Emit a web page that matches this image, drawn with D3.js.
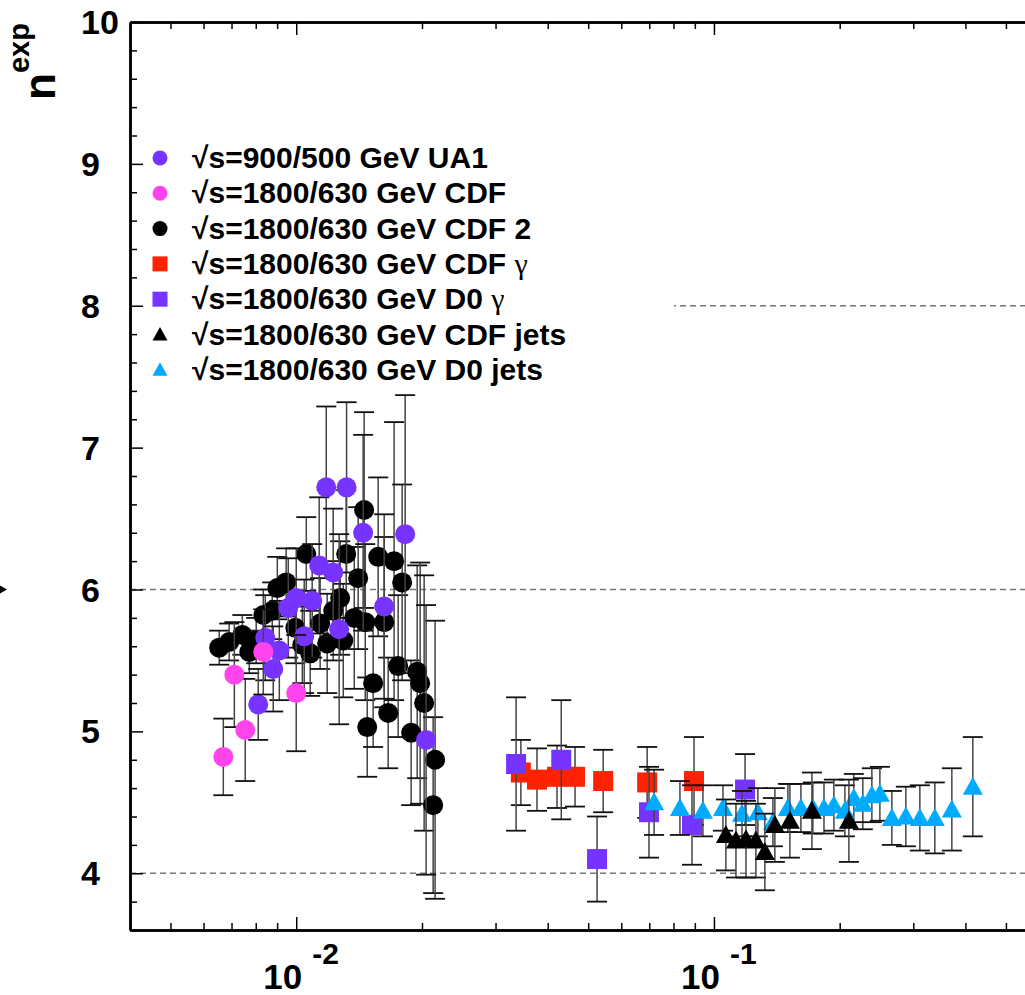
<!DOCTYPE html>
<html>
<head>
<meta charset="utf-8">
<script src="https://cdn.jsdelivr.net/npm/d3@7"></script>
<style>
body { margin: 0; background: #fff; }
text { font-family: "Liberation Sans", Arial, Helvetica, sans-serif; font-weight: bold; fill: #000; }
</style>
</head>
<body>
<svg id="chart" width="1025" height="995"></svg>
<script>
// [x, n_exp, error]
const ua1 = [
  [0.0118, 6.72, 0.57], [0.0132, 6.72, 0.60], [0.01446, 6.40, 0.69], [0.01823, 6.39, 0.98],
  [0.01135, 6.17, 0.48], [0.01226, 6.12, 0.45], [0.0100, 5.94, 0.35], [0.00957, 5.87, 0.35],
  [0.01092, 5.92, 0.40], [0.01267, 5.72, 0.67], [0.01624, 5.88, 0.65], [0.00843, 5.66, 0.30],
  [0.01045, 5.67, 0.40], [0.00911, 5.57, 0.35], [0.00881, 5.44, 0.30], [0.00811, 5.19, 0.25],
  [0.02046, 4.94, 0.95]
];
const cdf = [
  [0.00669, 4.82, 0.27], [0.00711, 5.40, 0.37], [0.00755, 5.01, 0.36],
  [0.00834, 5.56, 0.30], [0.0100, 5.27, 0.41]
];
const cdf2 = [
  [0.00654, 5.59, 0.12], [0.00691, 5.63, 0.13], [0.00743, 5.68, 0.14], [0.00772, 5.56, 0.15],
  [0.00802, 5.64, 0.16], [0.00834, 5.82, 0.18], [0.00876, 5.85, 0.20], [0.00901, 6.01, 0.22],
  [0.00946, 6.05, 0.24], [0.00995, 5.73, 0.25], [0.01034, 5.61, 0.27], [0.01057, 6.25, 0.26],
  [0.01080, 5.55, 0.30], [0.01141, 5.76, 0.32], [0.01186, 5.62, 0.35], [0.01226, 5.85, 0.35],
  [0.01274, 5.94, 0.40], [0.01296, 5.64, 0.40], [0.01317, 6.25, 0.45], [0.01377, 5.80, 0.50],
  [0.01407, 6.08, 0.50], [0.01454, 6.56, 0.69], [0.01463, 5.77, 0.55], [0.01479, 5.03, 0.35],
  [0.01528, 5.34, 0.45], [0.01571, 6.23, 0.56], [0.01624, 5.77, 0.60], [0.01660, 5.13, 0.39],
  [0.01715, 6.20, 0.98], [0.01754, 5.46, 0.50], [0.01793, 6.05, 0.69], [0.01884, 4.99, 0.51],
  [0.01948, 5.42, 0.75], [0.01980, 5.34, 0.85], [0.02024, 5.20, 0.90], [0.02127, 4.48, 0.62],
  [0.02150, 4.80, 0.98]
];
const cdfGamma = [
  [0.0345, 4.71, 0.23], [0.0377, 4.66, 0.22], [0.0421, 4.68, 0.22], [0.0465, 4.68, 0.21],
  [0.0543, 4.65, 0.22], [0.0692, 4.64, 0.25], [0.0896, 4.65, 0.31]
];
const d0Gamma = [
  [0.0336, 4.77, 0.47], [0.0431, 4.80, 0.42], [0.0525, 4.10, 0.30],
  [0.0699, 4.43, 0.32], [0.0886, 4.34, 0.28], [0.1187, 4.59, 0.25]
];
const cdfJets = [
  [0.1068, 4.27, 0.25], [0.1129, 4.23, 0.26], [0.1193, 4.24, 0.27], [0.1260, 4.23, 0.26],
  [0.1324, 4.15, 0.27], [0.1399, 4.34, 0.26], [0.1520, 4.37, 0.26], [0.1716, 4.44, 0.27],
  [0.2104, 4.37, 0.29]
];
const d0Jets = [
  [0.0719, 4.50, 0.23], [0.0829, 4.46, 0.19], [0.0941, 4.44, 0.18], [0.1051, 4.46, 0.16],
  [0.1167, 4.42, 0.16], [0.1274, 4.43, 0.17], [0.1384, 4.36, 0.17], [0.1503, 4.46, 0.17],
  [0.1615, 4.46, 0.17], [0.1725, 4.46, 0.18], [0.1834, 4.46, 0.18], [0.1937, 4.48, 0.18],
  [0.2058, 4.44, 0.18], [0.2162, 4.53, 0.17], [0.2272, 4.49, 0.18], [0.2388, 4.55, 0.19],
  [0.2496, 4.56, 0.19], [0.2666, 4.39, 0.19], [0.2880, 4.40, 0.21], [0.3111, 4.39, 0.23],
  [0.3379, 4.39, 0.25], [0.3711, 4.45, 0.29], [0.4166, 4.61, 0.35]
];

const legendLabels = [
  "√s=900/500 GeV UA1", "√s=1800/630 GeV CDF", "√s=1800/630 GeV CDF 2",
  "√s=1800/630 GeV CDF γ", "√s=1800/630 GeV D0 γ",
  "√s=1800/630 GeV CDF jets", "√s=1800/630 GeV D0 jets"
];
const yMajor = [4, 5, 6, 7, 8, 9, 10];
const yGrid = [4, 6, 8];
const xMajor = [0.01, 0.1];
const xExp = ["-2", "-1"];

// series in legend order, with their styles
const series = [
  { data: ua1, color: "#7733ff", shape: "circle" },
  { data: cdf, color: "#ff44ee", shape: "circle" },
  { data: cdf2, color: "#000000", shape: "circle" },
  { data: cdfGamma, color: "#ff2200", shape: "square" },
  { data: d0Gamma, color: "#7733ff", shape: "square" },
  { data: cdfJets, color: "#000000", shape: "triangle" },
  { data: d0Jets, color: "#00aaff", shape: "triangle" }
];
const drawOrder = [2, 0, 1, 3, 4, 6, 5];

const svg = d3.select("#chart");
const mLeft = 130, mTop = 22, mBottom = 930, mRight = 1039;

const x = d3.scaleLog().domain([0.004, 0.6]).range([mLeft, mRight]);
const y = d3.scaleLinear().domain([3.6, 10]).range([mBottom, mTop]);

function markerPath(shape, s) {
  if (shape === "square") return `M${-s},${-s}H${s}V${s}H${-s}Z`;
  if (shape === "triangle") return `M0,${-s}L${s},${s * 0.8}L${-s},${s * 0.8}Z`;
  return d3.symbol(d3.symbolCircle, Math.PI * s * s)();
}

// dashed reference lines
svg.append("g").selectAll("line")
  .data(yGrid)
  .join("line")
  .attr("x1", mLeft).attr("x2", mRight)
  .attr("y1", d => y(d)).attr("y2", d => y(d))
  .attr("stroke", "#777").attr("stroke-width", 1.5)
  .attr("stroke-dasharray", "6,4");

// legend background hides the grid behind it
svg.append("rect")
  .attr("x", mLeft + 1).attr("y", 135)
  .attr("width", 543).attr("height", 252)
  .attr("fill", "#fff");

// data: error bars then markers, one graph at a time
drawOrder.forEach(i => {
  const s = series[i];
  const g = svg.append("g");
  const eb = g.selectAll(".eb").data(s.data).join("g")
    .attr("transform", d => `translate(${x(d[0])},0)`);
  eb.append("line")
    .attr("y1", d => y(d[1] - d[2])).attr("y2", d => y(d[1] + d[2]))
    .attr("stroke", "#444").attr("stroke-width", 1.5);
  eb.append("line")
    .attr("x1", -10).attr("x2", 10)
    .attr("y1", d => y(d[1] + d[2])).attr("y2", d => y(d[1] + d[2]))
    .attr("stroke", "#111").attr("stroke-width", 1.8);
  eb.append("line")
    .attr("x1", -10).attr("x2", 10)
    .attr("y1", d => y(d[1] - d[2])).attr("y2", d => y(d[1] - d[2]))
    .attr("stroke", "#111").attr("stroke-width", 1.8);
  g.selectAll(".mk").data(s.data).join("path")
    .attr("transform", d => `translate(${x(d[0])},${y(d[1])})`)
    .attr("d", markerPath(s.shape, 10))
    .attr("fill", s.color);
});

// axes (ticks pointing inwards)
function styleAxis(sel) {
  sel.select(".domain").attr("stroke", "#000").attr("stroke-width", 2.5);
  sel.selectAll(".tick line").attr("stroke", "#000").attr("stroke-width", 1.5);
  sel.selectAll(".tick text").remove();
}
const yMinor = d3.range(36, 101, 2).map(v => v / 10).filter(v => !yMajor.includes(v));
const xMinor = [];
[0.001, 0.01, 0.1].forEach(dec => d3.range(2, 10).forEach(k => {
  const v = k * dec;
  if (v > 0.004 && v < 0.6) xMinor.push(v);
}));

svg.append("g").attr("transform", `translate(${mLeft},0)`)
  .call(d3.axisLeft(y).tickValues(yMajor).tickSizeInner(-13).tickSizeOuter(0).tickFormat(""))
  .call(styleAxis);
svg.append("g").attr("transform", `translate(${mLeft},0)`)
  .call(d3.axisLeft(y).tickValues(yMinor).tickSizeInner(-7).tickSizeOuter(0).tickFormat(""))
  .call(styleAxis);
svg.append("g").attr("transform", `translate(0,${mBottom})`)
  .call(d3.axisBottom(x).tickValues(xMajor).tickSizeInner(-13).tickSizeOuter(0).tickFormat(""))
  .call(styleAxis);
svg.append("g").attr("transform", `translate(0,${mBottom})`)
  .call(d3.axisBottom(x).tickValues(xMinor).tickSizeInner(-7).tickSizeOuter(0).tickFormat(""))
  .call(styleAxis);
svg.append("g").attr("transform", `translate(0,${mTop})`)
  .call(d3.axisTop(x).tickValues(xMajor).tickSizeInner(-13).tickSizeOuter(0).tickFormat(""))
  .call(styleAxis);
svg.append("g").attr("transform", `translate(0,${mTop})`)
  .call(d3.axisTop(x).tickValues(xMinor).tickSizeInner(-7).tickSizeOuter(0).tickFormat(""))
  .call(styleAxis);

// y tick labels
svg.append("g").selectAll("text")
  .data(yMajor)
  .join("text")
  .attr("x", 81)
  .attr("y", d => y(d) + 12)
  .attr("font-size", 34)
  .text(d => d);

// x tick labels 10^n
const xl = svg.append("g").selectAll("g")
  .data(xMajor)
  .join("g")
  .attr("transform", d => `translate(${x(d)},0)`);
xl.append("text")
  .attr("x", 6).attr("y", 989)
  .attr("text-anchor", "end")
  .attr("font-size", 35)
  .text("10");
xl.append("text")
  .attr("x", 16).attr("y", 964)
  .attr("font-size", 30)
  .text((d, i) => xExp[i]);

// y title
svg.append("text")
  .attr("transform", "translate(55,100) rotate(-90)")
  .attr("font-size", 44)
  .text("n")
  .append("tspan")
  .attr("dy", -26)
  .attr("font-size", 29)
  .text("exp");

// small arrow on the left edge
svg.append("path")
  .attr("d", `M0,${y(6) - 4}L7,${y(6)}L0,${y(6) + 4}Z`)
  .attr("fill", "#000");

// legend
const lg = svg.append("g").selectAll("g")
  .data(series)
  .join("g")
  .attr("transform", (d, i) => `translate(160,${158 + i * 35.3})`);
lg.append("path")
  .attr("d", d => markerPath(d.shape, 7.5))
  .attr("fill", d => d.color);
lg.append("text")
  .attr("x", 32).attr("y", 10)
  .attr("font-size", 30)
  .each(function (d, i) {
    const label = legendLabels[i];
    const t = d3.select(this);
    if (label.endsWith("γ")) {
      t.append("tspan").text(label.slice(0, -1));
      t.append("tspan")
        .style("font-family", "'Liberation Serif', 'DejaVu Serif', serif")
        .style("font-weight", "normal")
        .text("γ");
    } else {
      t.text(label);
    }
  });
</script>
</body>
</html>
